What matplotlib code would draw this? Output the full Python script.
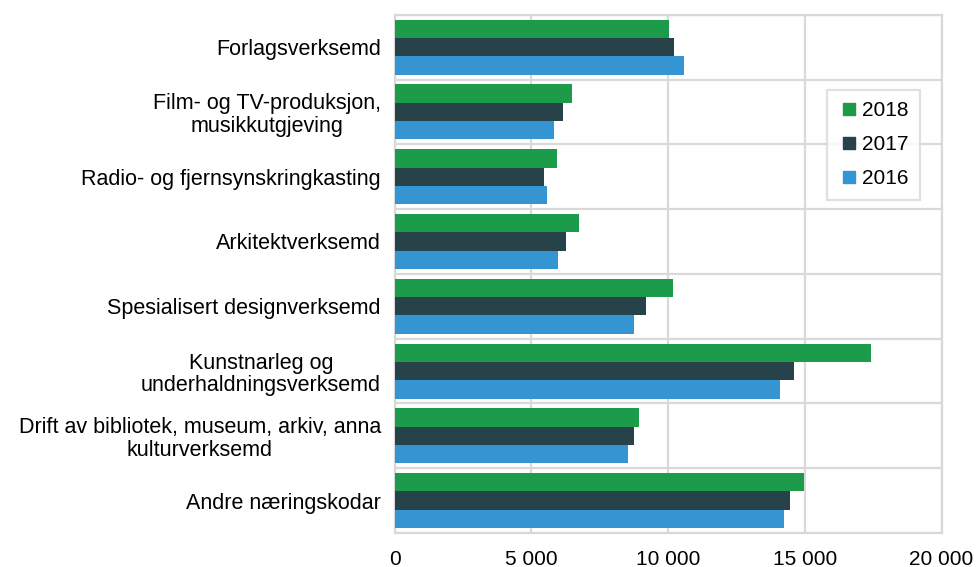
import numpy as np
import matplotlib
matplotlib.use("Agg")
import matplotlib.pyplot as plt
from matplotlib.lines import Line2D
from matplotlib.ticker import FuncFormatter

categories = ["Forlagsverksemd", "Film- og TV-produksjon,\nmusikkutgjeving", "Radio- og fjernsynskringkasting",
	"Arkitektverksemd", "Spesialisert designverksemd", "Kunstnarleg og\nunderhaldningsverksemd",
	"Drift av bibliotek, museum, arkiv, anna\nkulturverksemd", "Andre næringskodar"]
years = ["2018", "2017", "2016"]
v2018 = [10030, 6480, 5930, 6730, 10170, 17410, 8925, 14955]
v2017 = [10210, 6150, 5445, 6275, 9205, 14615, 8765, 14455]
v2016 = [10590, 5835, 5570, 5970, 8765, 14090, 8535, 14225]
colors = ["#1c9c4a", "#284249", "#3595d3"]
grid_col = "#d9d9d9"

plt.rcParams['font.family'] = ['Liberation Sans', 'DejaVu Sans']

fig = plt.figure(figsize=(9.79, 5.67), dpi=100)
ax = fig.add_axes([0.4032, 0.06, 0.5585, 0.914])

y = np.arange(len(categories))
h = 0.283
for i, vals in enumerate([v2018, v2017, v2016]):
	ax.barh(y + (i - 1) * h, vals, height=h, color=colors[i], zorder=3)

ax.set_xlim(0, 20000)
ax.set_ylim(len(categories) - 0.5, -0.5)
ax.set_xticks([0, 5000, 10000, 15000, 20000])
ax.xaxis.set_major_formatter(FuncFormatter(lambda v, p: "{:,.0f}".format(v).replace(",", " ")))
ax.set_yticks(y)
ax.set_yticklabels(categories)
ax.set_yticks(np.arange(-0.5, len(categories)), minor=True)
ax.tick_params(axis="y", which="minor", length=0)
ax.tick_params(axis="both", which="major", length=0, colors="#000000")
ax.tick_params(axis="x", pad=12, labelsize=15)
ax.tick_params(axis="y", pad=10, labelsize=15.5)
for lab in ax.get_yticklabels():
	lab.set_multialignment("center")
	lab.set_linespacing(1.1)
for lab in ax.get_xticklabels():
	lab.set_x(lab.get_position()[0])

ax.grid(axis="x", which="major", color=grid_col, linewidth=1.6, zorder=0)
ax.grid(axis="y", which="minor", color=grid_col, linewidth=1.6, zorder=0)
for s in ax.spines.values():
	s.set_color(grid_col)
	s.set_linewidth(1.6)

handles = [Line2D([], [], marker="s", linestyle="none", markersize=8, color=c) for c in colors]
leg = ax.legend(handles, years, loc="upper left", bbox_to_anchor=(0.79, 0.855), fontsize=15,
	frameon=True, fancybox=False, labelspacing=0.72, handletextpad=0.15, borderpad=0.55,
	borderaxespad=0, handlelength=1.0)
leg.get_frame().set_edgecolor(grid_col)
leg.get_frame().set_linewidth(1.6)

fig.savefig("out.png", dpi=100)
